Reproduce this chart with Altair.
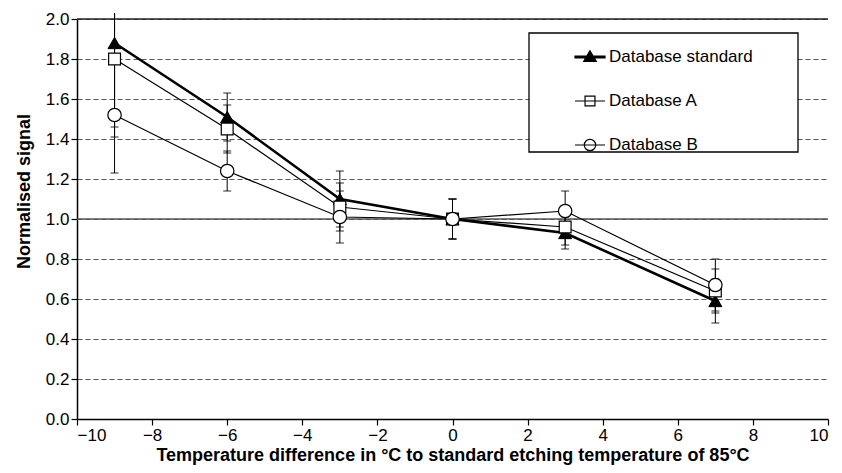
import altair as alt
import pandas as pd

temps = [-9, -6, -3, 0, 3, 7]
series_names = ["Database standard", "Database A", "Database B"]

std_vals = [1.88, 1.51, 1.10, 1.00, 0.93, 0.59]
std_lo = [1.46, 1.39, 0.96, 0.90, 0.85, 0.48]
std_hi = [2.03, 1.63, 1.24, 1.10, 1.01, 0.70]

a_vals = [1.80, 1.45, 1.06, 1.00, 0.96, 0.64]
a_lo = [1.41, 1.33, 0.94, 0.90, 0.87, 0.53]
a_hi = [2.03, 1.57, 1.18, 1.10, 1.05, 0.75]

b_vals = [1.52, 1.24, 1.01, 1.00, 1.04, 0.67]
b_lo = [1.23, 1.14, 0.88, 0.90, 0.94, 0.54]
b_hi = [1.81, 1.34, 1.14, 1.10, 1.14, 0.80]

x_ticks = [-10, -8, -6, -4, -2, 0, 2, 4, 6, 8, 10]
y_ticks = [0.0, 0.2, 0.4, 0.6, 0.8, 1.0, 1.2, 1.4, 1.6, 1.8, 2.0]
ref_lines = [1.0, 2.0]
ref_colors = ["#555555", "#222222"]

rows = []
for name, vals, lo, hi in [
    (series_names[0], std_vals, std_lo, std_hi),
    (series_names[1], a_vals, a_lo, a_hi),
    (series_names[2], b_vals, b_lo, b_hi),
]:
    for t, v, l, h in zip(temps, vals, lo, hi):
        rows.append({"series": name, "temp": t, "value": v, "lo": l, "hi": h})
df = pd.DataFrame(rows)

FONT = "Liberation Sans"

xscale = alt.Scale(domain=[-10, 10], nice=False, zero=False)
yscale = alt.Scale(domain=[0, 2], nice=False, zero=False)

axis_style = dict(
    labelFont=FONT, labelFontSize=17, labelColor="black",
    titleFont=FONT, titleFontWeight="bold", titleColor="black",
    domainColor="black", domainWidth=1.5, tickColor="black", tickSize=6,
    tickWidth=1.2, labelPadding=2,
)

x_axis_obj = alt.Axis(
    values=x_ticks, grid=False,
    title="Temperature difference in °C to standard etching temperature of 85°C",
    labelExpr="datum.value < 0 ? '\u2212' + abs(datum.value) : '' + datum.value",
    titlePadding=3, titleFontSize=18, **axis_style,
)
y_axis_obj = alt.Axis(
    values=y_ticks, format=".1f", grid=True, gridDash=[5, 3],
    gridColor="#555555", gridWidth=1,
    title="Normalised signal", titlePadding=12, titleFontSize=18, titleY=172,
    **axis_style,
)


def X(field="temp:Q"):
    return alt.X(field, scale=xscale, axis=x_axis_obj)


def Y(field):
    return alt.Y(field, scale=yscale, axis=y_axis_obj)


base = alt.Chart(df)

# reference solid lines at 1.0 and 2.0
refs = alt.Chart(pd.DataFrame({"value": ref_lines, "c": ref_colors})).mark_rule(
    strokeWidth=1.3
).encode(y=Y("value:Q"), color=alt.Color("c:N", scale=None, legend=None))

# legend frame
frame = alt.Chart(pd.DataFrame({"a": [0]})).mark_rect(
    fill="white", stroke="black", strokeWidth=1.3
).encode(
    x=alt.value(452), x2=alt.value(721), y=alt.value(14), y2=alt.value(133)
)

errs = base.mark_rule(color="black", strokeWidth=1).encode(
    x=X(), y=Y("lo:Q"), y2="hi:Q"
)
cap_lo = base.mark_tick(orient="horizontal", size=8, thickness=1.2, color="black").encode(
    x=X(), y=Y("lo:Q")
)
cap_hi = base.transform_filter("datum.hi <= 2.0").mark_tick(
    orient="horizontal", size=8, thickness=1.2, color="black"
).encode(x=X(), y=Y("hi:Q"))

line_layers = []
for name, w in zip(series_names, [2.6, 1.2, 1.2]):
    line_layers.append(
        base.transform_filter(alt.datum.series == name)
        .mark_line(color="black", strokeWidth=w)
        .encode(x=X(), y=Y("value:Q"))
    )

pts_std = base.transform_filter(alt.datum.series == series_names[0]).mark_point(
    shape="triangle-up", size=170, filled=True, fill="black", stroke="black",
    strokeWidth=1, opacity=1,
).encode(x=X(), y=Y("value:Q"))
pts_a = base.transform_filter(alt.datum.series == series_names[1]).mark_point(
    shape="square", size=140, fill="white", stroke="black", strokeWidth=1.2,
    opacity=1, fillOpacity=1,
).encode(x=X(), y=Y("value:Q"))
pts_b = base.transform_filter(alt.datum.series == series_names[2]).mark_point(
    shape="circle", size=180, fill="white", stroke="black", strokeWidth=1.2,
    opacity=1, fillOpacity=1,
).encode(x=X(), y=Y("value:Q"))

legend_paths = [
    "M-1,-0.06H1V0.06H-1Z M0,-0.42L0.42,0.3L-0.42,0.3Z",
    "M-1,0H1 M-0.33,-0.33H0.33V0.33H-0.33Z M-0.33,0H0.33",
    "M-1,0H1 M-0.38,0A0.38,0.38 0 1,1 0.38,0A0.38,0.38 0 1,1 -0.38,0Z M-0.38,0H0.38",
]
leg = alt.Legend(
    title=None, orient="none", legendX=497, legendY=22,
    labelFont=FONT, labelFontSize=17, labelColor="black",
    symbolSize=900, symbolStrokeColor="black", symbolStrokeWidth=1.2,
    symbolOpacity=1,
    rowPadding=20, padding=0, labelOffset=3,
)
# legend-only layer: points placed below the y-domain and clipped away
legend_df = pd.DataFrame({"series": series_names, "temp": [0, 0, 0], "value": [-5, -5, -5]})
legend_layer = alt.Chart(legend_df).mark_point(
    strokeWidth=1.2, opacity=1, fillOpacity=1, clip=True
).encode(
    x=X(),
    y=Y("value:Q"),
    shape=alt.Shape("series:N", scale=alt.Scale(domain=series_names, range=legend_paths), legend=leg),
    fill=alt.Fill("series:N", scale=alt.Scale(domain=series_names, range=["black", "white", "white"]), legend=leg),
    stroke=alt.Stroke("series:N", scale=alt.Scale(domain=series_names, range=["black", "black", "black"]), legend=leg),
)

chart = alt.layer(
    refs, frame, errs, cap_lo, cap_hi, *line_layers, pts_std, pts_a, pts_b, legend_layer
).properties(
    width=751, height=400,
    autosize=alt.AutoSizeParams(type="none"),
    padding={"left": 69, "top": 11, "right": 6, "bottom": 46},
).configure_view(
    stroke="transparent"
)

chart.save("out.html", embed_options={"renderer": "svg", "actions": False})
